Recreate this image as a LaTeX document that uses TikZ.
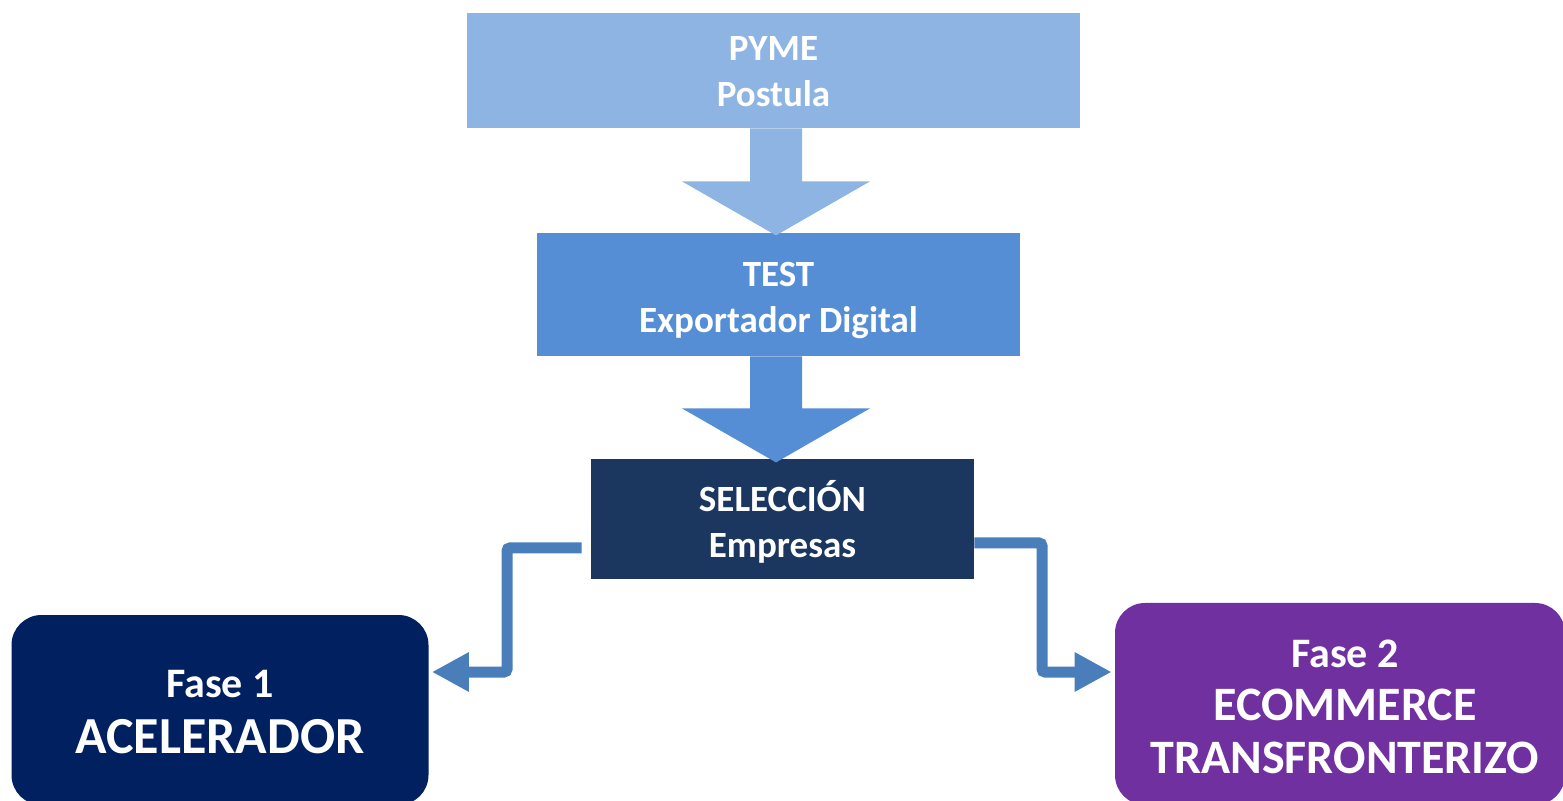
\documentclass[tikz,border=0pt]{standalone}
\usepackage{fontspec}
\setmainfont{Carlito}
\usetikzlibrary{calc,arrows.meta}
\definecolor{cPyme}{HTML}{8EB4E3}
\definecolor{cTest}{HTML}{558ED5}
\definecolor{cSel}{HTML}{1B375F}
\definecolor{cFaseA}{HTML}{002060}
\definecolor{cFaseB}{HTML}{7030A0}
\definecolor{cConn}{HTML}{4A7EBB}
\tikzset{
  box/.style={inner sep=0pt, align=center, text=white},
  midfont/.style={font={\fontsize{18.5pt}{23pt}\selectfont\bfseries}},
  conn/.style={draw=cConn, line width=5.5pt, rounded corners=1.5pt,
    -{Triangle[length=18.5pt,width=18.5pt]}},
}
\begin{document}
\begin{tikzpicture}[x=0.5pt,y=-0.5pt]
\useasboundingbox (0,0) rectangle (1563,801);
\clip (0,0) rectangle (1563,801);
% boxes
\node[box, midfont, fill=cPyme, minimum width=306.5pt, minimum height=57.5pt] (pyme) at (773.5,70.5) {};
\node[box, midfont] (pymet) at (773.5,72) {PYME\\Postula};
\node[box, midfont, fill=cTest, minimum width=241.5pt, minimum height=61.5pt] (test) at (778.5,294.5) {};
\node[box, midfont] (testt) at (778.5,301) {TEST\\Exportador Digital};
\node[box, midfont, fill=cSel, minimum width=191.5pt, minimum height=60pt] (sel) at (782.5,519) {};
\node[box, midfont] (selt) at (782.5,522) {SELECCIÓN\\Empresas};
\node[box, fill=cFaseA, rounded corners=15pt, minimum width=208.5pt, minimum height=95pt] (f1) at (220,710) {};
\node[box, font={\fontsize{26pt}{28pt}\selectfont\bfseries}] (f1t) at (220,712)
  {{\fontsize{21pt}{28pt}\selectfont Fase 1}\\ACELERADOR};
\node[box, fill=cFaseB, rounded corners=15pt, minimum width=225pt, minimum height=101pt] (f2) at (1340,704) {};
\node[box, font={\fontsize{24pt}{26.5pt}\selectfont\bfseries}] (f2t) at (1345,707)
  {{\fontsize{21pt}{26.5pt}\selectfont Fase 2}\\ECOMMERCE\\TRANSFRONTERIZO};
% block arrows
\coordinate (a1) at ($(pyme.south)+(2.5,0)$);
\fill[cPyme] (a1) ++(-26,0) -- ++(0,53) -- ++(-68,0) -- ++(94,54) -- ++(94,-54) -- ++(-68,0) -- ++(0,-53) -- cycle;
\coordinate (a2) at ($(test.south)+(-2.5,0)$);
\fill[cTest] (a2) ++(-26,0) -- ++(0,52) -- ++(-68,0) -- ++(94,54) -- ++(94,-54) -- ++(-68,0) -- ++(0,-52) -- cycle;
% connectors
\coordinate (l0) at ($(sel.west)+(-9,29)$);
\coordinate (l1) at ($(f1.east)+(3,-38)$);
\draw[conn] (l0) -- (507,548) -- (507,672) -- (l1);
\coordinate (r0) at ($(sel.east)+(0,24)$);
\coordinate (r1) at ($(f2.west)+(-3,-32)$);
\draw[conn] (r0) -- (1042,543) -- (1042,672) -- (r1);
\end{tikzpicture}
\end{document}
